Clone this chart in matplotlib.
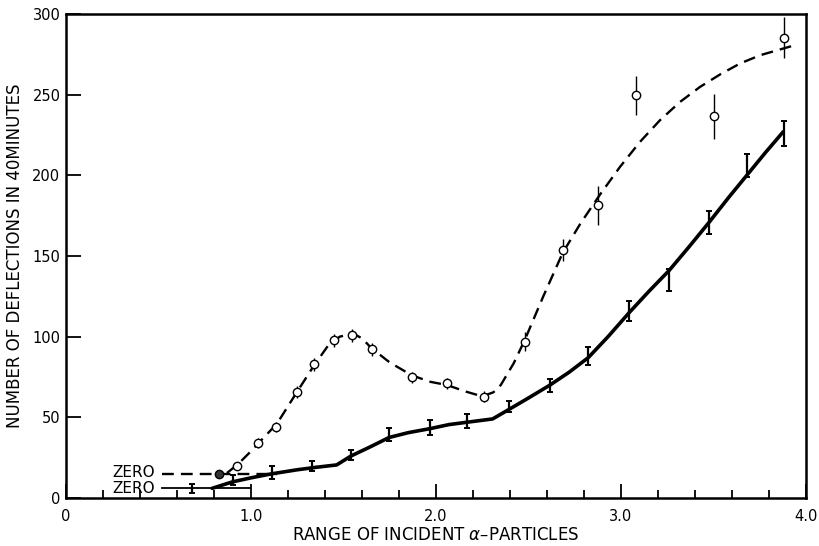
import matplotlib
matplotlib.use("Agg")
import matplotlib.pyplot as plt
from matplotlib.ticker import MultipleLocator, FixedLocator

plt.rcParams['font.family'] = ['DejaVu Sans']

# ---- data ----
# open-circle series (dashed curve)
circ_x = [0.926, 1.04, 1.135, 1.247, 1.342, 1.447, 1.546, 1.652, 1.87, 2.058, 2.26,
          2.48, 2.685, 2.877, 3.08, 3.50, 3.883]
circ_y = [20, 34.3, 43.8, 65.7, 83, 97.9, 101, 92.1, 74.8, 71, 62.8,
          96.9, 153.7, 181.5, 249.7, 236.7, 285.4]
circ_err = [2.5, 3, 3, 3.5, 4, 4, 4, 4, 3.5, 3.5, 3.5,
            5.7, 7, 12, 12, 14, 12.5]
zero_pt_x = [0.829]
zero_pt_y = [15.1]

# I-bar series (solid curve)
bar_x = [0.679, 0.90, 1.112, 1.328, 1.54, 1.747, 1.968, 2.17, 2.396, 2.616, 2.823,
         3.045, 3.26, 3.477, 3.68, 3.883]
bar_y = [6, 11, 15.7, 19.8, 26.6, 39.5, 43.8, 47.7, 56.6, 69.6, 88,
         116, 135, 170.6, 206.3, 226]
bar_err = [2.6, 3, 4, 3, 3, 4, 4.6, 4.4, 3.6, 4, 5.5,
           6.2, 7, 7.2, 7.2, 7.7]

# drawn curves
dash_cx = [0.87, 0.93, 1.00, 1.04, 1.14, 1.25, 1.34, 1.42, 1.48, 1.55, 1.60, 1.65,
           1.75, 1.87, 1.97, 2.06, 2.16, 2.25, 2.31, 2.35, 2.42, 2.48, 2.58, 2.685,
           2.78, 2.886, 2.995, 3.103, 3.211, 3.319, 3.427, 3.535, 3.643, 3.751,
           3.859, 3.95]
dash_cy = [15.5, 21, 29, 34, 46, 66, 82, 95, 100, 102, 99, 93,
           84, 76, 72, 70, 66, 63, 65.5, 70, 83.5, 98, 125, 152,
           170, 188, 205.3, 220.8, 234.2, 245.5, 254.8, 262.5, 269.3, 274.4,
           278, 281]
solid_cx = [0.79, 0.90, 1.00, 1.112, 1.25, 1.35, 1.463, 1.54, 1.65, 1.746, 1.85,
            1.968, 2.07, 2.17, 2.306, 2.396, 2.50, 2.616, 2.72, 2.823, 2.93, 3.045,
            3.15, 3.26, 3.37, 3.477, 3.58, 3.68, 3.78, 3.877]
solid_cy = [6, 10, 12.5, 15, 17.5, 19, 20.5, 26, 32, 37.5, 40.5,
            43, 45.5, 47, 49, 55, 62, 70, 78, 87, 100, 115,
            128, 141, 156, 171, 186, 200, 214, 227]

# zero reference lines
zero_dash_x = [0.517, 1.14]
zero_dash_y = [15, 15]
zero_solid_x = [0.517, 0.995]
zero_solid_y = [6, 6]

x_major = [0, 1.0, 2.0, 3.0, 4.0]
x_major_labels = ["0", "1.0", "2.0", "3.0", "4.0"]
y_major = [0, 50, 100, 150, 200, 250, 300]
y_major_labels = ["0", "50", "100", "150", "200", "250", "300"]

# ---- figure ----
fig = plt.figure(figsize=(8.19, 5.46), dpi=100)
ax = fig.add_axes([66/819, 1-498/546, 740/819, 484/546])

ax.plot(dash_cx, dash_cy, color='black', lw=1.7, ls=(0, (5, 3)))
ax.plot(solid_cx, solid_cy, color='black', lw=2.6, solid_capstyle='round')
ax.plot(zero_dash_x, zero_dash_y, color='black', lw=1.7, ls=(0, (5, 3)))
ax.plot(zero_solid_x, zero_solid_y, color='black', lw=1.3)

ax.errorbar(circ_x, circ_y, yerr=circ_err, fmt='o', ms=6, mfc='white', mec='black',
            mew=1.0, ecolor='black', elinewidth=1.0, capsize=0, zorder=5)
ax.plot(zero_pt_x, zero_pt_y, 'o', ms=6, mfc='#333333', mec='black', mew=1.0, zorder=5)
ax.errorbar(bar_x, bar_y, yerr=bar_err, fmt='none', ecolor='black',
            elinewidth=1.6, capsize=2.2, capthick=1.4, zorder=5)

ax.text(0.48, 16, "ZERO", ha='right', va='center', fontsize=11)
ax.text(0.48, 6, "ZERO", ha='right', va='center', fontsize=11)

ax.set_xlim(0, 4.0)
ax.set_ylim(0, 300)
ax.xaxis.set_major_locator(FixedLocator(x_major))
ax.set_xticklabels(x_major_labels)
ax.xaxis.set_minor_locator(MultipleLocator(0.2))
ax.yaxis.set_major_locator(FixedLocator(y_major))
ax.set_yticklabels(y_major_labels)

ax.tick_params(axis='x', which='major', direction='in', length=10, width=1.3,
               labelsize=10.5, pad=8, top=False)
ax.tick_params(axis='x', which='minor', direction='in', length=6, width=1.3, top=False)
ax.tick_params(axis='y', which='major', direction='in', length=11, width=1.3,
               labelsize=10.5, pad=4, right=False)

for s in ax.spines.values():
    s.set_linewidth(1.8)

ax.set_xlabel(r"RANGE OF INCIDENT $\alpha$–PARTICLES", fontsize=12, labelpad=1)
ax.set_ylabel("NUMBER OF DEFLECTIONS IN 40MINUTES", fontsize=12, labelpad=6)

fig.savefig("out.png", dpi=100)
